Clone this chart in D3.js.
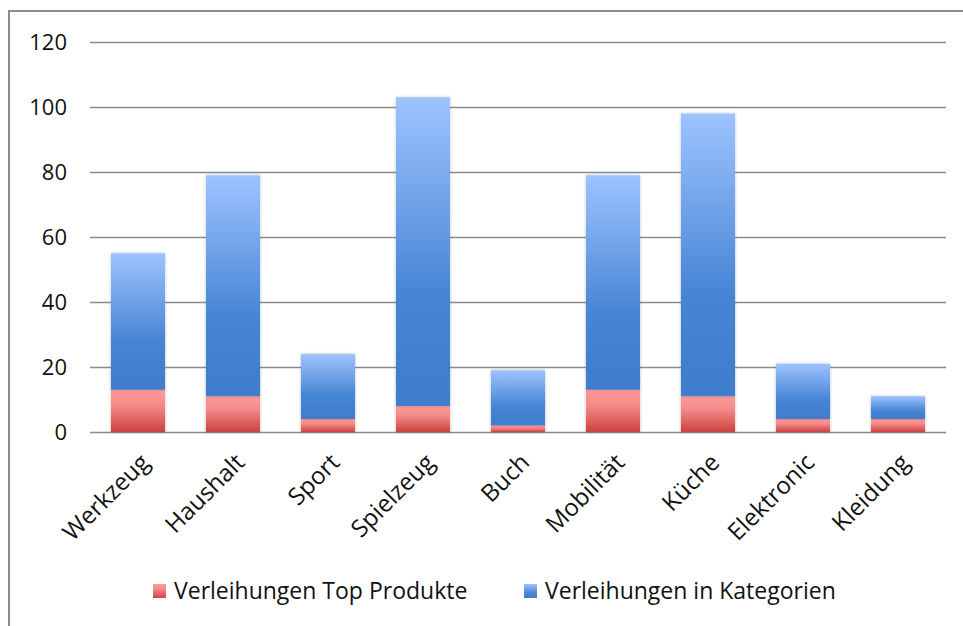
<!DOCTYPE html>
<html lang="de">
<head>
<meta charset="UTF-8">
<title>Verleihungen</title>
<script src="https://cdn.jsdelivr.net/npm/d3@7"></script>
<style>
    body { margin: 0; background: #fff; }
    svg { font-family: "Open Sans", "DejaVu Sans", sans-serif; }
</style>
</head>
<body>
<div id="chart"></div>
<script>
    // data
    const categories = ["Werkzeug", "Haushalt", "Sport", "Spielzeug", "Buch", "Mobilität", "Küche", "Elektronic", "Kleidung"];
    const topProdukte = [13, 11, 4, 8, 2, 13, 11, 4, 4];
    const inKategorien = [42, 68, 20, 95, 17, 66, 87, 17, 7];
    const yTicks = [0, 20, 40, 60, 80, 100, 120];
    const seriesNames = ["Verleihungen Top Produkte", "Verleihungen in Kategorien"];

    const width = 963, height = 626;
    const svg = d3.select("#chart").append("svg")
        .attr("width", width).attr("height", height);

    const defs = svg.append("defs");
    const redGrad = defs.append("linearGradient").attr("id", "gRed")
        .attr("x1", 0).attr("y1", 0).attr("x2", 0).attr("y2", 1);
    redGrad.append("stop").attr("offset", "0%").attr("stop-color", "#ff9a99");
    redGrad.append("stop").attr("offset", "35%").attr("stop-color", "#f48c8b");
    redGrad.append("stop").attr("offset", "100%").attr("stop-color", "#cb423e");
    const blueGrad = defs.append("linearGradient").attr("id", "gBlue")
        .attr("x1", 0).attr("y1", 0).attr("x2", 0).attr("y2", 1);
    blueGrad.append("stop").attr("offset", "0%").attr("stop-color", "#9dc3ff");
    blueGrad.append("stop").attr("offset", "65%").attr("stop-color", "#4684d4");
    blueGrad.append("stop").attr("offset", "100%").attr("stop-color", "#3f7dcc");

    const shadow = defs.append("filter").attr("id", "shadow")
        .attr("x", "-20%").attr("y", "-20%").attr("width", "140%").attr("height", "140%");
    shadow.append("feDropShadow").attr("dx", 0).attr("dy", 0)
        .attr("stdDeviation", 1.5).attr("flood-color", "#000").attr("flood-opacity", 0.25);

    // outer frame
    svg.append("path")
        .attr("d", "M9,626 V11 H963")
        .attr("fill", "none").attr("stroke", "#8c8c8c").attr("stroke-width", 2);

    const x = d3.scaleBand().domain(categories).range([90.5, 945.5]).paddingInner(0.43).paddingOuter(0.215);
    const y = d3.scaleLinear().domain([0, 120]).range([432, 42]);

    // gridlines
    svg.append("g").selectAll("line").data(yTicks).join("line")
        .attr("x1", 90).attr("x2", 946)
        .attr("y1", d => Math.round(y(d)) + 0.5).attr("y2", d => Math.round(y(d)) + 0.5)
        .attr("stroke", "#8a8a8a").attr("stroke-width", 1.3);

    // y axis labels
    const yAxis = svg.append("g").attr("transform", "translate(67,0)")
        .call(d3.axisLeft(y).tickValues(yTicks).tickSize(0).tickPadding(0));
    yAxis.select(".domain").remove();
    yAxis.selectAll("text").style("font-size", "22px").style("font-family", "'Open Sans', sans-serif")
        .attr("fill", "#111");

    // stacked bars
    const rows = categories.map((c, i) => ({ cat: c, a: topProdukte[i], b: inKategorien[i] }));
    const stack = d3.stack().keys(["a", "b"])(rows);
    const fills = ["url(#gRed)", "url(#gBlue)"];

    const bars = svg.append("g");
    stack.forEach((layer, k) => {
        bars.append("g").selectAll("rect").data(layer).join("rect")
            .attr("x", d => x(d.data.cat))
            .attr("width", x.bandwidth())
            .attr("y", d => y(d[1]))
            .attr("height", d => y(d[0]) - y(d[1]))
            .attr("fill", fills[k])
            .attr("filter", "url(#shadow)");
    });

    // category labels, rotated
    svg.append("g").selectAll("text").data(categories).join("text")
        .attr("transform", d => `translate(${x(d) + x.bandwidth() / 2 + 7},458) rotate(-45)`)
        .attr("text-anchor", "end")
        .attr("dy", "0.35em")
        .style("font-size", "24px")
        .attr("fill", "#111")
        .text(d => d);

    // legend
    const legend = svg.append("g").attr("transform", "translate(0,591)");
    const legX = [153, 524];
    seriesNames.forEach((name, i) => {
        legend.append("rect").attr("x", legX[i]).attr("y", -7).attr("width", 13).attr("height", 14)
            .attr("fill", fills[i]);
        legend.append("text").attr("x", legX[i] + 21).attr("y", 0).attr("dy", "0.35em")
            .style("font-size", "23px").attr("fill", "#111").text(name);
    });
</script>
</body>
</html>
